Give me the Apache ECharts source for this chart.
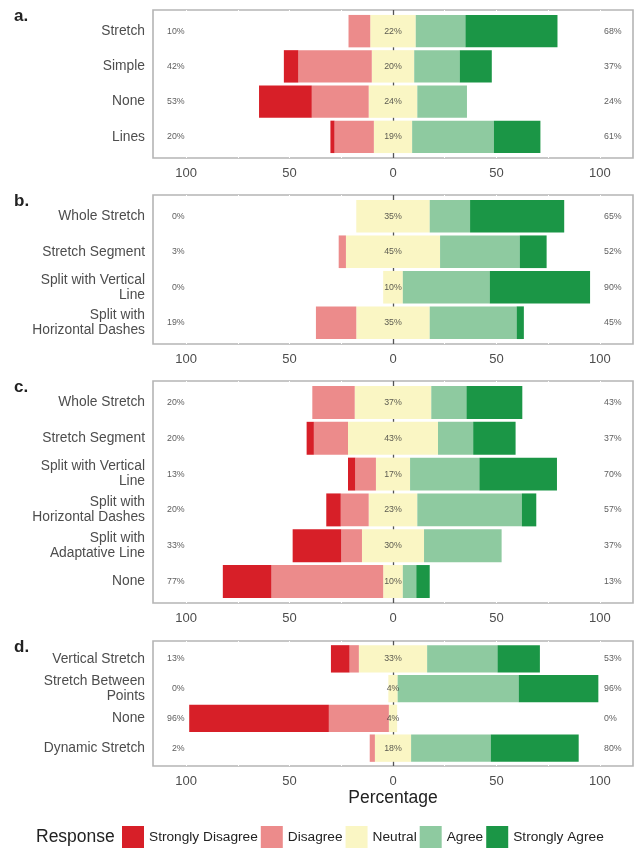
<!DOCTYPE html>
<html>
<head>
<meta charset="utf-8">
<script src="https://cdn.jsdelivr.net/npm/echarts@6/dist/echarts.min.js"></script>
<style>
  html, body { margin: 0; padding: 0; background: #fff; }
  #main { width: 638px; height: 850px; }
</style>
</head>
<body>
<div id="main"></div>
<script>
// responses in order: Strongly Disagree, Disagree, Neutral, Agree, Strongly Agree
const responses = ["Strongly Disagree", "Disagree", "Neutral", "Agree", "Strongly Agree"];
const colors = ["#d71f28", "#ec8b8b", "#faf6c4", "#8ecaa0", "#1b9646"];

// panel a
const catsA = ["Stretch", "Simple", "None", "Lines"];
const valsA = [
  [0, 10.5, 22, 24, 44.5],
  [7, 35.5, 20.5, 22, 15.5],
  [25.5, 27.5, 23.5, 24, 0],
  [2, 19, 18.5, 39.5, 22.5],
];
const leftA = [10, 42, 53, 20];
const midA = [22, 20, 24, 19];
const rightA = [68, 37, 24, 61];

// panel b
const catsB = ["Whole Stretch", "Stretch Segment", "Split with Vertical\nLine", "Split with\nHorizontal Dashes"];
const valsB = [
  [0, 0, 35.5, 19.5, 45.5],
  [0, 3.5, 45.5, 38.5, 13],
  [0, 0, 9.5, 42, 48.5],
  [0, 19.5, 35.5, 42, 3.5],
];
const leftB = [0, 3, 0, 19];
const midB = [35, 45, 10, 35];
const rightB = [65, 52, 90, 45];

// panel c
const catsC = ["Whole Stretch", "Stretch Segment", "Split with Vertical\nLine", "Split with\nHorizontal Dashes", "Split with\nAdaptative Line", "None"];
const valsC = [
  [0, 20.5, 37, 17, 27],
  [3.5, 16.5, 43.5, 17, 20.5],
  [3.5, 10, 16.5, 33.5, 37.5],
  [7, 13.5, 23.5, 50.5, 7],
  [23.5, 10, 30, 37.5, 0],
  [23.5, 54, 9.5, 6.5, 6.5],
];
const leftC = [20, 20, 13, 20, 33, 77];
const midC = [37, 43, 17, 23, 30, 10];
const rightC = [43, 37, 70, 57, 37, 13];

// panel d
const catsD = ["Vertical Stretch", "Stretch Between\nPoints", "None", "Dynamic Stretch"];
const valsD = [
  [9, 4.5, 33, 34, 20.5],
  [0, 0, 4.5, 58.5, 38.5],
  [67.5, 29, 4, 0, 0],
  [0, 2.5, 17.5, 38.5, 42.5],
];
const leftD = [13, 0, 96, 2];
const midD = [33, 4, 4, 18];
const rightD = [53, 96, 0, 80];

const xTicks = [-100, -50, 0, 50, 100];
const xGrid = [-100, -75, -50, -25, 25, 50, 75, 100];

const panels = [
  { letter: "a.", top: 10, height: 148, cats: catsA, vals: valsA, left: leftA, mid: midA, right: rightA },
  { letter: "b.", top: 195, height: 149, cats: catsB, vals: valsB, left: leftB, mid: midB, right: rightB },
  { letter: "c.", top: 381, height: 222, cats: catsC, vals: valsC, left: leftC, mid: midC, right: rightC },
  { letter: "d.", top: 641, height: 125, cats: catsD, vals: valsD, left: leftD, mid: midD, right: rightD },
];

const chart = echarts.init(document.getElementById("main"), null, { renderer: "canvas" });

const grids = [], xAxes = [], yAxes = [], series = [], graphics = [];
const font = "Liberation Sans, Arial, sans-serif";
const XMIN = -116, XMAX = 116;

panels.forEach((p, i) => {
  const outer = i * 2, inner = i * 2 + 1;
  // ggplot-like discrete expansion: 0.6 band at each end
  const unit = p.height / (p.cats.length + 0.2);

  // outer panel: border, x labels, zero line
  grids.push({
    left: 153, right: 5, top: p.top, height: p.height,
    show: true, borderColor: "#b5b5b5", borderWidth: 1.6, backgroundColor: "#fff",
  });
  // inner panel: bars and category labels
  grids.push({ left: 153, right: 5, top: p.top + unit * 0.1, height: unit * p.cats.length });

  xAxes.push({
    gridIndex: outer, type: "value", min: XMIN, max: XMAX,
    axisLine: { show: false }, axisTick: { show: false }, splitLine: { show: false },
    axisLabel: {
      customValues: xTicks,
      formatter: (v) => Math.abs(v),
      color: "#4d4d4d", fontSize: 13, margin: 8.5,
    },
    name: i === 3 ? "Percentage" : "",
    nameLocation: "middle", nameGap: 23,
    nameTextStyle: { fontSize: 17.5, color: "#222" },
  });
  xAxes.push({
    gridIndex: inner, type: "value", min: XMIN, max: XMAX,
    axisLine: { show: false }, axisTick: { show: false }, splitLine: { show: false },
    axisLabel: { show: false },
  });
  yAxes.push({
    gridIndex: outer, type: "value", min: 0, max: 1, show: false,
  });
  yAxes.push({
    gridIndex: inner, type: "category", data: p.cats, inverse: true,
    axisLine: { show: false },
    axisTick: { show: true, alignWithLabel: true, length: 3, lineStyle: { color: "#b5b5b5" } },
    axisLabel: { color: "#4d4d4d", fontSize: 13.8, lineHeight: 15, margin: 8 },
  });

  // white grid lines (break the panel border like the ggplot theme)
  series.push({
    type: "scatter", xAxisIndex: outer, yAxisIndex: outer, data: [], silent: true,
    markLine: {
      z: 1, silent: true, symbol: "none", label: { show: false },
      lineStyle: { color: "#fff", width: 1, type: "solid" },
      data: xGrid.map((v) => ({ xAxis: v })),
    },
  });
  // zero reference line across the whole panel
  series.push({
    type: "scatter", xAxisIndex: outer, yAxisIndex: outer, data: [], silent: true,
    markLine: {
      z: 1, silent: true, symbol: "none", label: { show: false },
      lineStyle: { color: "#555", width: 1.3, type: "solid" },
      data: [{ xAxis: 0 }],
    },
  });

  const base = { type: "bar", stack: "s" + i, xAxisIndex: inner, yAxisIndex: inner, barCategoryGap: "8%", silent: true };
  // left half: neutral half, disagree, strongly disagree
  series.push({ ...base, name: "Neutral", itemStyle: { color: colors[2] }, data: p.vals.map((r) => -r[2] / 2) });
  series.push({ ...base, name: "Disagree", itemStyle: { color: colors[1] }, data: p.vals.map((r) => -r[1]) });
  series.push({ ...base, name: "Strongly Disagree", itemStyle: { color: colors[0] }, data: p.vals.map((r) => -r[0]) });
  // right half: neutral half, agree, strongly agree
  series.push({ ...base, name: "Neutral", itemStyle: { color: colors[2] }, data: p.vals.map((r) => r[2] / 2) });
  series.push({ ...base, name: "Agree", itemStyle: { color: colors[3] }, data: p.vals.map((r) => r[3]) });
  series.push({ ...base, name: "Strongly Agree", itemStyle: { color: colors[4] }, data: p.vals.map((r) => r[4]) });

  const lbl = { fontSize: 8.8, color: "#333" };
  series.push({
    type: "scatter", xAxisIndex: inner, yAxisIndex: inner, symbolSize: 0, silent: true,
    data: p.left.map((v, j) => [-100.7, j]),
    label: { show: true, position: "left", distance: 0, formatter: (q) => p.left[q.dataIndex] + "%", ...lbl },
  });
  series.push({
    type: "scatter", xAxisIndex: inner, yAxisIndex: inner, symbolSize: 0, silent: true,
    data: p.mid.map((v, j) => [0, j]),
    label: { show: true, position: "inside", formatter: (q) => p.mid[q.dataIndex] + "%", ...lbl },
  });
  series.push({
    type: "scatter", xAxisIndex: inner, yAxisIndex: inner, symbolSize: 0, silent: true,
    data: p.right.map((v, j) => [102, j]),
    label: { show: true, position: "right", distance: 0, formatter: (q) => p.right[q.dataIndex] + "%", ...lbl },
  });

  graphics.push({
    type: "text", silent: true,
    style: {
      x: 14, y: p.top + 6, text: p.letter, fill: "#222",
      fontSize: 17, fontWeight: "bold", fontFamily: font,
      align: "left", verticalAlign: "middle",
    },
  });
});

graphics.push({
  type: "text", silent: true,
  style: {
    x: 36, y: 837, text: "Response", fill: "#222",
    fontSize: 17.5, fontFamily: font, align: "left", verticalAlign: "middle",
  },
});

const option = {
  animation: false,
  backgroundColor: "#fff",
  textStyle: { fontFamily: font },
  grid: grids,
  xAxis: xAxes,
  yAxis: yAxes,
  legend: {
    left: 122, top: 826, padding: 0, itemWidth: 22, itemHeight: 22, itemGap: 3,
    icon: "rect", selectedMode: false, data: responses,
    textStyle: { fontSize: 13.7, color: "#222" },
  },
  graphic: graphics,
  series: series,
};

chart.setOption(option);
</script>
</body>
</html>
